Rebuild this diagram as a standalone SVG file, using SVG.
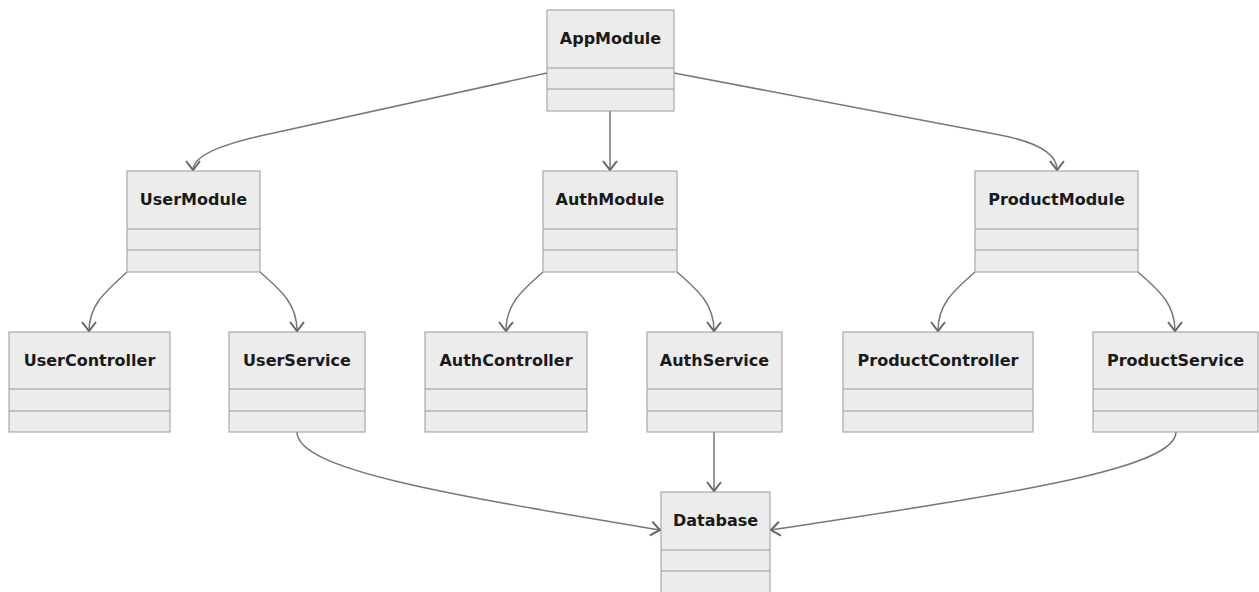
<svg xmlns="http://www.w3.org/2000/svg" width="1259" height="592" viewBox="0 0 1259 592">
  <style>
    .box { fill: #ECECEC; stroke: #9A9A9A; stroke-width: 1; }
    .div { stroke: #9A9A9A; stroke-width: 1; }
    .lbl { font-family: "DejaVu Sans", Verdana, sans-serif; font-weight: bold; font-size: 16px; fill: #1a1a1a; text-anchor: middle; }
    .edge { fill: none; stroke: #777; stroke-width: 1.5; marker-end: url(#arrow); }
  </style>
  <defs>
    <marker id="arrow" markerUnits="userSpaceOnUse" markerWidth="14" markerHeight="16" refX="10" refY="8" orient="auto">
      <path d="M1,1 L10,8 L1,15" fill="none" stroke="#666" stroke-width="2"/>
    </marker>
  </defs>
  <rect width="1259" height="592" fill="#ffffff"/>

  <!-- connectors -->
  <g id="connectors">
    <path class="edge" d="M547,73 L260,136 Q193,151 193,170"/>
    <path class="edge" d="M610,111 L610,170"/>
    <path class="edge" d="M674,73 L1000,135 Q1057,146 1057,170"/>
    <path class="edge" d="M127,272 C105,292 89,305 89,331"/>
    <path class="edge" d="M260,272 C283,292 297,305 297,331"/>
    <path class="edge" d="M543,272 C520,292 506,305 506,331"/>
    <path class="edge" d="M677,272 C700,292 714,305 714,331"/>
    <path class="edge" d="M975,272 C952,292 938,305 938,331"/>
    <path class="edge" d="M1138,272 C1161,292 1175,305 1175,331"/>
    <path class="edge" d="M297,432 C297,470 450,495 660,530"/>
    <path class="edge" d="M714,432 L714,491"/>
    <path class="edge" d="M1176,432 C1176,470 1000,495 771,530"/>
  </g>

  <g id="AppModule">
    <rect class="box" x="547" y="10" width="127" height="101"/>
    <line class="div" x1="547" y1="68" x2="674" y2="68"/>
    <line class="div" x1="547" y1="89" x2="674" y2="89"/>
    <text class="lbl" x="610.5" y="44">AppModule</text>
  </g>

  <g id="UserModule">
    <rect class="box" x="127" y="171" width="133" height="101"/>
    <line class="div" x1="127" y1="229" x2="260" y2="229"/>
    <line class="div" x1="127" y1="250" x2="260" y2="250"/>
    <text class="lbl" x="193.5" y="205">UserModule</text>
  </g>

  <g id="AuthModule">
    <rect class="box" x="543" y="171" width="134" height="101"/>
    <line class="div" x1="543" y1="229" x2="677" y2="229"/>
    <line class="div" x1="543" y1="250" x2="677" y2="250"/>
    <text class="lbl" x="610" y="205">AuthModule</text>
  </g>

  <g id="ProductModule">
    <rect class="box" x="975" y="171" width="163" height="101"/>
    <line class="div" x1="975" y1="229" x2="1138" y2="229"/>
    <line class="div" x1="975" y1="250" x2="1138" y2="250"/>
    <text class="lbl" x="1056.5" y="205">ProductModule</text>
  </g>

  <g id="UserController">
    <rect class="box" x="9" y="332" width="161" height="100"/>
    <line class="div" x1="9" y1="389" x2="170" y2="389"/>
    <line class="div" x1="9" y1="411" x2="170" y2="411"/>
    <text class="lbl" x="89.5" y="366">UserController</text>
  </g>

  <g id="UserService">
    <rect class="box" x="229" y="332" width="136" height="100"/>
    <line class="div" x1="229" y1="389" x2="365" y2="389"/>
    <line class="div" x1="229" y1="411" x2="365" y2="411"/>
    <text class="lbl" x="297" y="366">UserService</text>
  </g>

  <g id="AuthController">
    <rect class="box" x="425" y="332" width="162" height="100"/>
    <line class="div" x1="425" y1="389" x2="587" y2="389"/>
    <line class="div" x1="425" y1="411" x2="587" y2="411"/>
    <text class="lbl" x="506" y="366">AuthController</text>
  </g>

  <g id="AuthService">
    <rect class="box" x="647" y="332" width="135" height="100"/>
    <line class="div" x1="647" y1="389" x2="782" y2="389"/>
    <line class="div" x1="647" y1="411" x2="782" y2="411"/>
    <text class="lbl" x="714.5" y="366">AuthService</text>
  </g>

  <g id="ProductController">
    <rect class="box" x="843" y="332" width="190" height="100"/>
    <line class="div" x1="843" y1="389" x2="1033" y2="389"/>
    <line class="div" x1="843" y1="411" x2="1033" y2="411"/>
    <text class="lbl" x="938" y="366">ProductController</text>
  </g>

  <g id="ProductService">
    <rect class="box" x="1093" y="332" width="165" height="100"/>
    <line class="div" x1="1093" y1="389" x2="1258" y2="389"/>
    <line class="div" x1="1093" y1="411" x2="1258" y2="411"/>
    <text class="lbl" x="1175.5" y="366">ProductService</text>
  </g>

  <g id="Database">
    <rect class="box" x="661" y="492" width="109" height="102"/>
    <line class="div" x1="661" y1="550" x2="770" y2="550"/>
    <line class="div" x1="661" y1="571" x2="770" y2="571"/>
    <text class="lbl" x="715.5" y="526">Database</text>
  </g>
</svg>
